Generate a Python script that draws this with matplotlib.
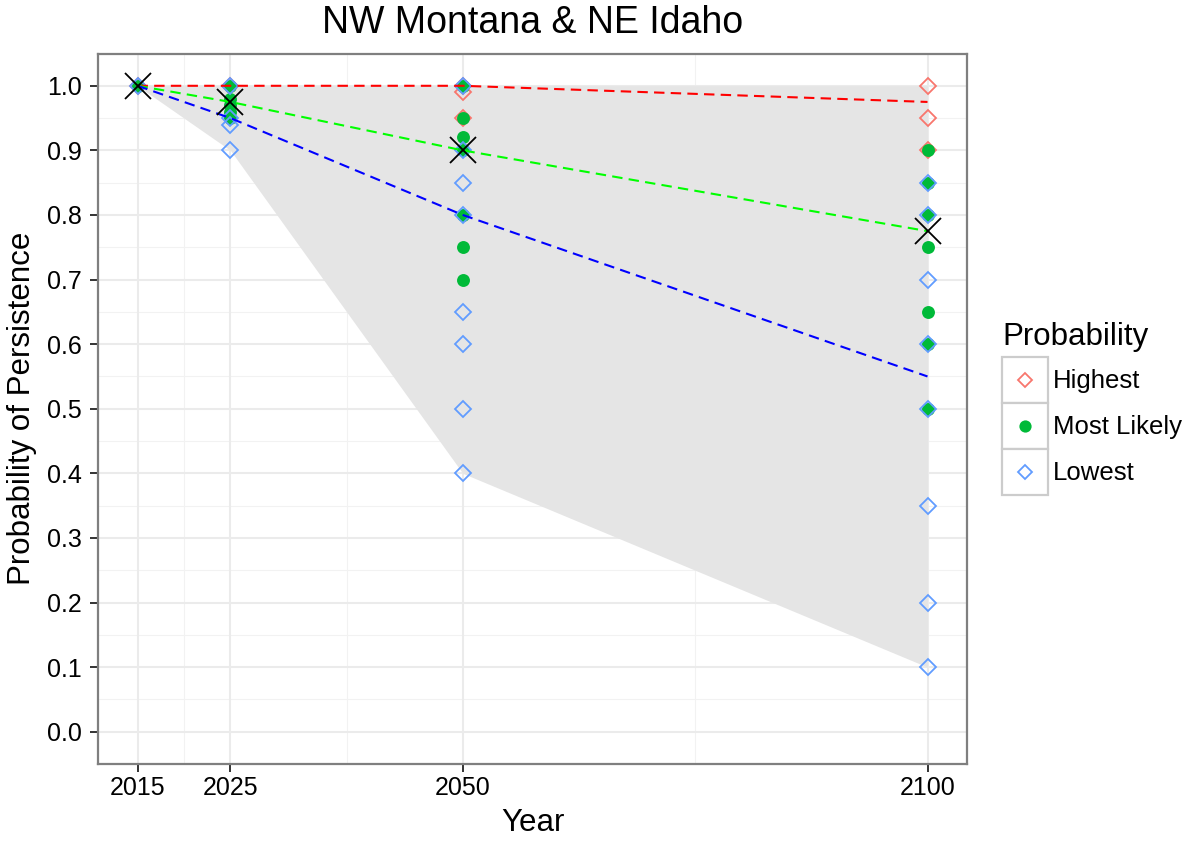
import matplotlib
matplotlib.use("Agg")
import matplotlib.pyplot as plt
from matplotlib.patches import Rectangle

plt.rcParams['font.family'] = ['Liberation Sans', 'DejaVu Sans']

years = [2015, 2025, 2050, 2100]
year_labels = ["2015", "2025", "2050", "2100"]
y_ticks = [0.0, 0.1, 0.2, 0.3, 0.4, 0.5, 0.6, 0.7, 0.8, 0.9, 1.0]

# scattered estimates
highest_x = [2015, 2025, 2050, 2050, 2050, 2100, 2100, 2100]
highest_y = [1.0, 1.0, 1.0, 0.99, 0.95, 1.0, 0.95, 0.90]

likely_x = [2015, 2025, 2025, 2025, 2025, 2025,
            2050, 2050, 2050, 2050, 2050, 2050, 2050,
            2100, 2100, 2100, 2100, 2100, 2100, 2100]
likely_y = [1.0, 1.0, 0.98, 0.97, 0.96, 0.95,
            1.0, 0.95, 0.92, 0.90, 0.80, 0.75, 0.70,
            0.90, 0.85, 0.80, 0.75, 0.65, 0.60, 0.50]

lowest_x = [2015, 2025, 2025, 2025, 2025,
            2050, 2050, 2050, 2050, 2050, 2050, 2050, 2050,
            2100, 2100, 2100, 2100, 2100, 2100, 2100, 2100]
lowest_y = [1.0, 1.0, 0.95, 0.94, 0.90,
            1.0, 0.90, 0.85, 0.80, 0.65, 0.60, 0.50, 0.40,
            0.85, 0.80, 0.70, 0.60, 0.50, 0.35, 0.20, 0.10]

# summary lines
highest_line = [1.0, 1.0, 1.0, 0.975]
likely_line = [1.0, 0.975, 0.90, 0.775]
lowest_line = [1.0, 0.95, 0.80, 0.55]

# ribbon
ribbon_low = [1.0, 0.90, 0.40, 0.10]
ribbon_high = [1.0, 1.0, 1.0, 1.0]

c_high = '#F8766D'
c_likely = '#00BA38'
c_low = '#619CFF'

W, H = 1194, 841
fig = plt.figure(figsize=(W / 100, H / 100), dpi=100)
L, R, T, B = 98, 967, 53.5, 764
ax = fig.add_axes([L / W, 1 - B / H, (R - L) / W, (B - T) / H])

ax.set_xlim(2010.75, 2104.25)
ax.set_ylim(-0.05, 1.05)

# grid
for v in [2020, 2037.5, 2075]:
    ax.axvline(v, color='#f2f2f2', lw=0.8, zorder=0)
for v in [i * 0.1 + 0.05 for i in range(10)]:
    ax.axhline(v, color='#f2f2f2', lw=0.8, zorder=0)
for v in years:
    ax.axvline(v, color='#ebebeb', lw=1.5, zorder=0)
for v in y_ticks:
    ax.axhline(v, color='#ebebeb', lw=1.5, zorder=0)

ax.fill_between(years, ribbon_low, ribbon_high, color='#e5e5e5', lw=0, zorder=1)

ms_d = 7.8
ax.plot(highest_x, highest_y, linestyle='none', marker='D', ms=ms_d, mfc='none',
        mec=c_high, mew=1.3, zorder=3)
ax.plot(likely_x, likely_y, linestyle='none', marker='o', ms=9.3, mfc=c_likely,
        mec=c_likely, mew=0, zorder=4)
ax.plot(lowest_x, lowest_y, linestyle='none', marker='D', ms=ms_d, mfc='none',
        mec=c_low, mew=1.3, zorder=5)

lw = 1.5
dash = (5.0, 3.0)
ax.plot(years, highest_line, color='#ff0000', lw=lw, dashes=dash, zorder=6)
ax.plot(years, likely_line, color='#00ff00', lw=lw, dashes=dash, zorder=6)
ax.plot(years, lowest_line, color='#0000ff', lw=lw, dashes=dash, zorder=6)

ax.plot(years, likely_line, linestyle='none', marker='x', ms=19, mew=1.3,
        color='black', zorder=7)

ax.set_xticks(years)
ax.set_xticklabels(year_labels)
ax.set_yticks(y_ticks)
ax.set_yticklabels([f"{v:.1f}" for v in y_ticks])
ax.tick_params(axis='both', length=5.8, width=1.4, color='#333333',
               labelsize=18, labelcolor='black')
ax.tick_params(axis='x', pad=2.5)
ax.tick_params(axis='y', pad=6)
for s in ax.spines.values():
    s.set_color('#7f7f7f')
    s.set_linewidth(1.6)

# overlay in pixel space for titles and legend
lg = fig.add_axes([0, 0, 1, 1], facecolor='none')
lg.set_xlim(0, W)
lg.set_ylim(H, 0)
lg.axis('off')
lg.text((L + R) / 2, 23, 'NW Montana & NE Idaho', fontsize=27, ha='center', va='center')
lg.text((L + R) / 2, 823, 'Year', fontsize=22.5, ha='center', va='center')
lg.text(22, (T + B) / 2, 'Probability of Persistence', fontsize=22.5, ha='center',
        va='center', rotation=90)

lg.text(1002, 337, 'Probability', fontsize=22.5, va='center', ha='left')
keys = [('Highest', 'D', 'none', c_high, ms_d * 0.95, 1.3),
        ('Most Likely', 'o', c_likely, c_likely, 8.8, 0),
        ('Lowest', 'D', 'none', c_low, ms_d * 0.95, 1.3)]
top = 357
kh = 46
for i, (name, mk, fc, ec, m, mw) in enumerate(keys):
    y0 = top + i * kh
    lg.add_patch(Rectangle((1002, y0), 46, kh, facecolor='white',
                           edgecolor='#cccccc', lw=1.6))
    lg.plot([1025], [y0 + kh / 2], marker=mk, ms=m, mfc=fc, mec=ec, mew=mw,
            linestyle='none')
    lg.text(1053, y0 + kh / 2 + 1, name, fontsize=18.5, va='center', ha='left')

fig.savefig('out.png', dpi=100)
